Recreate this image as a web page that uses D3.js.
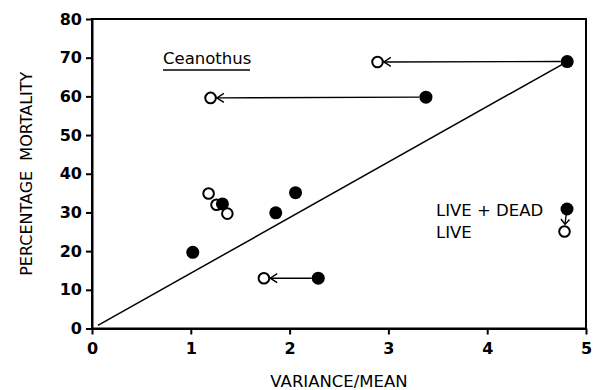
<!DOCTYPE html>
<html>
<head>
<meta charset="utf-8">
<script src="https://cdn.jsdelivr.net/npm/d3@7"></script>
<style>
  body { margin: 0; background: #fff; }
  svg { display: block; }
</style>
</head>
<body>
<svg id="chart"></svg>
<script>
// live + dead (filled) and live only (open) points
const deadX = [4.81, 3.38, 1.02, 1.32, 1.86, 2.06, 2.29]
const deadY = [69.0, 59.8, 19.7, 32.2, 29.9, 35.1, 13.0]
const liveX = [2.89, 1.20, 1.18, 1.26, 1.37, 1.74]
const liveY = [68.9, 59.6, 34.9, 32.0, 29.7, 13.0]
// which filled point shifts to which open point (arrows)
const shifts = [[0, 0], [1, 1], [6, 5]]
// fitted line end points
const fitX = [0.06, 4.81]
const fitY = [0.8, 69.0]
const xTicks = [0, 1, 2, 3, 4, 5]
const yTicks = [0, 10, 20, 30, 40, 50, 60, 70, 80]

const width = 593, height = 390
const margin = {top: 19, right: 7, bottom: 61, left: 92}

const svg = d3.select('#chart')
    .attr('width', width)
    .attr('height', height)
    .style('font-family', '"DejaVu Sans", sans-serif')

const x = d3.scaleLinear().domain([0, 5]).range([margin.left, width - margin.right])
const y = d3.scaleLinear().domain([0, 80]).range([height - margin.bottom - 0.5, margin.top])

// frame
svg.append('rect')
    .attr('x', x(0)).attr('y', y(80))
    .attr('width', x(5) - x(0)).attr('height', y(0) - y(80))
    .attr('fill', 'none').attr('stroke', '#000').attr('stroke-width', 2)

const xAxis = svg.append('g')
    .attr('transform', `translate(0,${y(0)})`)
    .call(d3.axisBottom(x).tickValues(xTicks).tickFormat(d3.format('d')).tickSize(6).tickSizeOuter(0).tickPadding(8))
const yAxis = svg.append('g')
    .attr('transform', `translate(${x(0)},0)`)
    .call(d3.axisLeft(y).tickValues(yTicks).tickSize(6).tickSizeOuter(0).tickPadding(4))

for (const g of [xAxis, yAxis]) {
  g.select('.domain').attr('stroke-width', 2)
  g.selectAll('.tick line').attr('stroke-width', 2)
  g.selectAll('.tick text')
      .attr('font-family', '"DejaVu Sans", sans-serif')
      .attr('font-weight', 'bold')
      .attr('font-size', 16)
      .attr('fill', '#000')
}

// axis titles
svg.append('text')
    .attr('x', (x(0) + x(5)) / 2)
    .attr('y', 387)
    .attr('text-anchor', 'middle')
    .attr('font-size', 16.5)
    .text('VARIANCE/MEAN')

svg.append('text')
    .attr('transform', `translate(32,${(y(0) + y(80)) / 2}) rotate(-90)`)
    .attr('text-anchor', 'middle')
    .attr('font-size', 16)
    .attr('xml:space', 'preserve')
    .text('PERCENTAGE  MORTALITY')

// fitted line
svg.append('line')
    .attr('x1', x(fitX[0])).attr('y1', y(fitY[0]))
    .attr('x2', x(fitX[1])).attr('y2', y(fitY[1]))
    .attr('stroke', '#000').attr('stroke-width', 1.5)

const rDead = 6.5, rLive = 5.3

// arrows from live+dead to live
const arrow = svg.append('g').attr('stroke', '#000').attr('stroke-width', 1.4).attr('fill', 'none')
shifts.forEach(([i, j]) => {
  const x1 = x(deadX[i]) - rDead, y1 = y(deadY[i])
  const x2 = x(liveX[j]) + rLive + 1, y2 = y(liveY[j])
  arrow.append('line').attr('x1', x1).attr('y1', y1).attr('x2', x2).attr('y2', y2)
  arrow.append('path').attr('d', `M${x2 + 7},${y2 - 4.5}L${x2},${y2}L${x2 + 7},${y2 + 4.5}`)
})

// open circles
svg.append('g').selectAll('circle')
  .data(liveX.map((d, i) => [d, liveY[i]]))
  .join('circle')
    .attr('cx', d => x(d[0])).attr('cy', d => y(d[1]))
    .attr('r', rLive)
    .attr('fill', '#fff').attr('stroke', '#000').attr('stroke-width', 2)

// filled circles
svg.append('g').selectAll('circle')
  .data(deadX.map((d, i) => [d, deadY[i]]))
  .join('circle')
    .attr('cx', d => x(d[0])).attr('cy', d => y(d[1]))
    .attr('r', rDead)
    .attr('fill', '#000')

// species label
svg.append('text')
    .attr('x', 163).attr('y', 64)
    .attr('font-size', 16.5)
    .text('Ceanothus')
svg.append('line')
    .attr('x1', 163).attr('x2', 250).attr('y1', 70).attr('y2', 70)
    .attr('stroke', '#000').attr('stroke-width', 1.5)

// legend
const legend = svg.append('g')
legend.append('text').attr('x', 436).attr('y', 216).attr('font-size', 16.5).text('LIVE + DEAD')
legend.append('text').attr('x', 436).attr('y', 238).attr('font-size', 16.5).text('LIVE')
legend.append('circle').attr('cx', 567).attr('cy', 209).attr('r', rDead).attr('fill', '#000')
legend.append('line').attr('x1', 566.5).attr('y1', 212).attr('x2', 565).attr('y2', 224)
    .attr('stroke', '#000').attr('stroke-width', 1.4)
legend.append('path').attr('d', 'M561,219L565,224.5L569.5,219.5')
    .attr('fill', 'none').attr('stroke', '#000').attr('stroke-width', 1.4)
legend.append('circle').attr('cx', 564.5).attr('cy', 231.5).attr('r', rLive)
    .attr('fill', '#fff').attr('stroke', '#000').attr('stroke-width', 2)
</script>
</body>
</html>
